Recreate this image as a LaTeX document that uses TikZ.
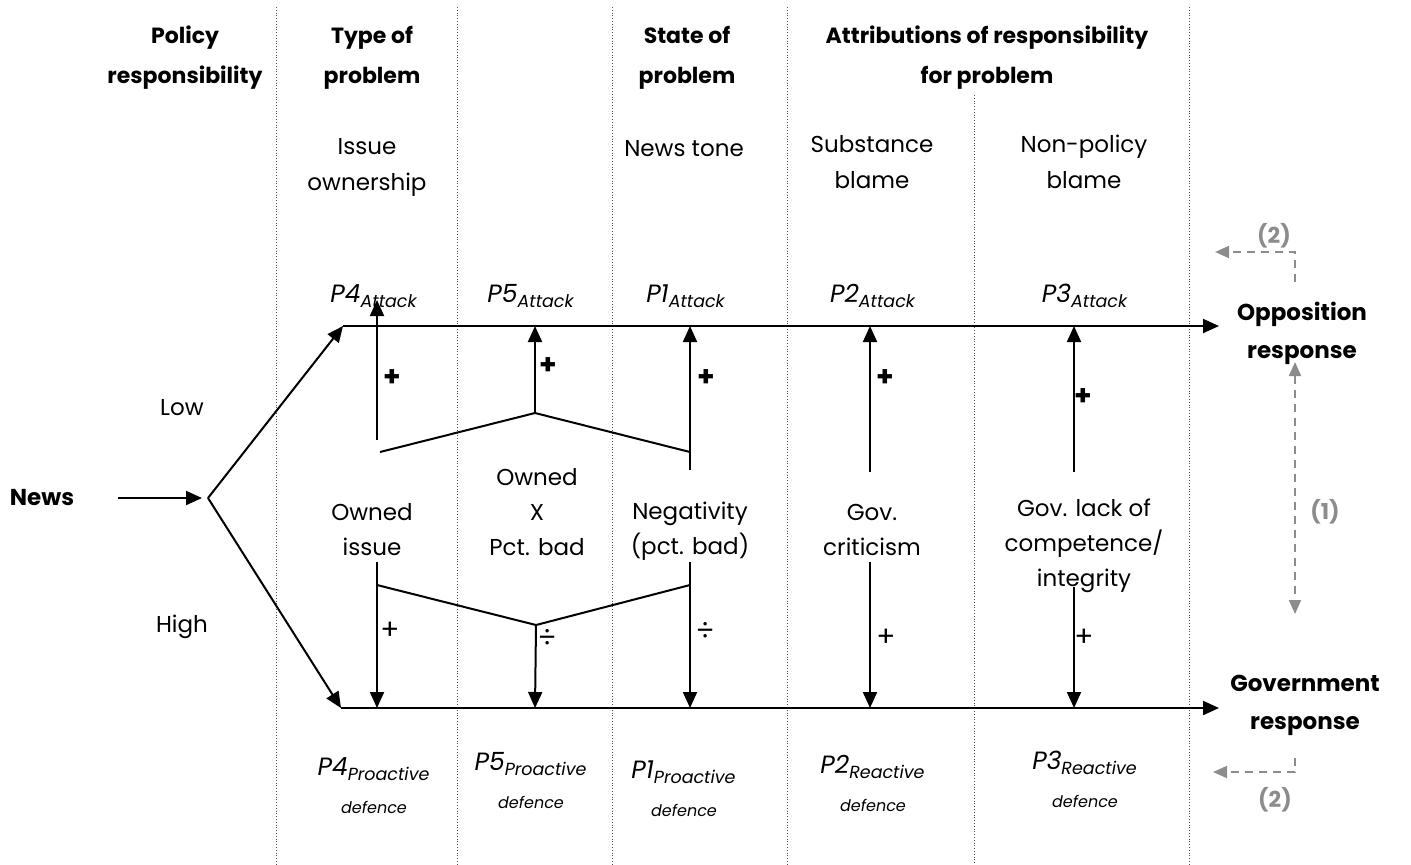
\documentclass[tikz,border=0pt]{standalone}
\usepackage{fontspec}
\setmainfont{Poppins}
\usetikzlibrary{arrows.meta}

\definecolor{loopgray}{RGB}{140,140,140}

\begin{document}
\begin{tikzpicture}[x=0.5pt, y=-0.5pt,
  hdr/.style={align=center, font=\bfseries\fontsize{11}{20}\selectfont},
  sub/.style={align=center, font=\fontsize{11.5}{18}\selectfont},
  mid/.style={align=center, font=\fontsize{11.5}{17.5}\selectfont},
  plab/.style={font=\itshape\fontsize{12.5}{14}\selectfont},
  dlab/.style={align=center, font=\itshape\fontsize{12.5}{19}\selectfont},
  sign/.style={font=\bfseries\fontsize{14}{14}\selectfont},
  signr/.style={font=\fontsize{14}{14}\selectfont},
  arr/.style={line width=1pt, -{Triangle[length=8pt, width=7pt]}},
  ln/.style={line width=1pt},
  fb/.style={loopgray, line width=0.9pt, dash pattern=on 4pt off 3pt, -{Triangle[length=7pt, width=6pt]}},
  fbl/.style={loopgray, font=\bfseries\fontsize{11}{14}\selectfont},
  divider/.style={densely dotted, line width=0.4pt, black!70}]

  \useasboundingbox (0,0) rectangle (1411,864);

  % column dividers
  \foreach \x in {276,457,612,787,1189}
    \draw[divider] (\x,7) -- (\x,864);
  \draw[divider] (974,95) -- (974,864);

  % headers
  \node[hdr] (hpol) at (185,58) {Policy\\responsibility};
  \node[hdr] (htype) at (372,58) {Type of\\problem};
  \node[hdr] (hstate) at (687,58) {State of\\problem};
  \node[hdr] (hattr) at (987,58) {Attributions of responsibility\\for problem};

  \node[sub] (sown) at (367,167) {Issue\\ownership};
  \node[sub] (stone) at (684,149) {News tone};
  \node[sub] (ssub) at (872,162) {Substance\\blame};
  \node[sub] (snon) at (1084,162) {Non-policy\\blame};

  % news and split
  \node[font=\bfseries\fontsize{11.5}{14}\selectfont] (news) at (42,498) {News};
  \node[sub] (low) at (182,408) {Low};
  \node[sub] (high) at (182,627) {High};
  \coordinate (n0) at (118,498);
  \coordinate (n1) at (202,498);
  \coordinate (split) at (208,498);
  \coordinate (opstart) at (343,326);
  \coordinate (govstart) at (341,708);
  \coordinate (opend) at (1219,326);
  \coordinate (govend) at (1219,708);

  \draw[arr] (n0) -- (n1);
  \draw[arr] (split) -- (opstart);
  \draw[arr] (split) -- (govstart);
  \draw[arr] (opstart) -- (opend);
  \draw[arr] (govstart) -- (govend);

  \node[font=\bfseries\fontsize{11.5}{19}\selectfont, align=center] (opp) at (1302,333) {Opposition\\response};
  \node[font=\bfseries\fontsize{11.5}{19}\selectfont, align=center] (gov) at (1305,705) {Government\\response};

  % attack labels
  \node[plab] (p4a) at (374,296) {P4\textsubscript{Attack}};
  \node[plab] (p5a) at (531,296) {P5\textsubscript{Attack}};
  \node[plab] (p1a) at (686,296) {P1\textsubscript{Attack}};
  \node[plab] (p2a) at (873,296) {P2\textsubscript{Attack}};
  \node[plab] (p3a) at (1085,296) {P3\textsubscript{Attack}};

  % defence labels
  \node[dlab] (p4d) at (374,786) {P4\textsubscript{Proactive}\\{\fontsize{8}{9}\selectfont defence}};
  \node[dlab] (p5d) at (531,780) {P5\textsubscript{Proactive}\\{\fontsize{8}{9}\selectfont defence}};
  \node[dlab] (p1d) at (684,789) {P1\textsubscript{Proactive}\\{\fontsize{8}{9}\selectfont defence}};
  \node[dlab] (p2d) at (873,783) {P2\textsubscript{Reactive}\\{\fontsize{8}{9}\selectfont defence}};
  \node[dlab] (p3d) at (1085,779) {P3\textsubscript{Reactive}\\{\fontsize{8}{9}\selectfont defence}};

  % middle texts
  \node[mid] (owned) at (372,530) {Owned\\issue};
  \node[mid] (ownedx) at (537,512) {Owned\\X\\Pct. bad};
  \node[mid] (negat) at (690,531) {Negativity\\(pct. bad)};
  \node[mid] (gcrit) at (872,530) {Gov.\\criticism};
  \node[mid] (glack) at (1084,546) {Gov. lack of\\competence/\\integrity};

  % upper links
  \coordinate (u4) at (377,440);
  \coordinate (tl) at (380,452);
  \coordinate (tm) at (535,413);
  \coordinate (tr) at (690,452);
  \coordinate (u1) at (690,470);
  \coordinate (u2) at (870,472);
  \coordinate (u3) at (1074,472);
  \draw[ln] (tl) -- (tm) -- (tr);
  \draw[arr] (u4) -- (377,300);
  \draw[arr] (tm) -- (535,326);
  \draw[arr] (u1) -- (690,326);
  \draw[arr] (u2) -- (870,326);
  \draw[arr] (u3) -- (1074,326);
  \node[sign] at (392,378) {+};
  \node[sign] at (548,366) {+};
  \node[sign] at (706,378) {+};
  \node[sign] at (885,378) {+};
  \node[sign] at (1083,397) {+};

  % lower links
  \coordinate (bl) at (377,585);
  \coordinate (bm) at (536,625);
  \coordinate (br) at (690,585);
  \draw[ln] (bl) -- (bm) -- (br);
  \draw[arr] (377,562) -- (377,708);
  \draw[arr] (bm) -- (535,708);
  \draw[arr] (690,562) -- (690,708);
  \draw[arr] (870,562) -- (870,708);
  \draw[arr] (1074,587) -- (1074,708);
  \node[signr] at (390,631) {+};
  \node[signr] at (547,638) {÷};
  \node[signr] at (705,631) {÷};
  \node[signr] at (886,638) {+};
  \node[signr] at (1084,638) {+};

  % feedback loops
  \coordinate (o2a) at (1295,282);
  \coordinate (o2b) at (1295,252);
  \coordinate (o2c) at (1215,252);
  \draw[fb] (o2a) -- (o2b) -- (o2c);
  \node[fbl] (l2a) at (1274,236) {(2)};
  \coordinate (g2a) at (1295,758);
  \coordinate (g2b) at (1295,772);
  \coordinate (g2c) at (1213,772);
  \draw[fb] (g2a) -- (g2b) -- (g2c);
  \node[fbl] (l2b) at (1275,800) {(2)};
  \coordinate (r1a) at (1295,362);
  \coordinate (r1b) at (1295,614);
  \draw[fb, {Triangle[length=7pt, width=6pt]}-{Triangle[length=7pt, width=6pt]}] (r1a) -- (r1b);
  \node[fbl] (l1) at (1325,512) {(1)};
\end{tikzpicture}
\end{document}
